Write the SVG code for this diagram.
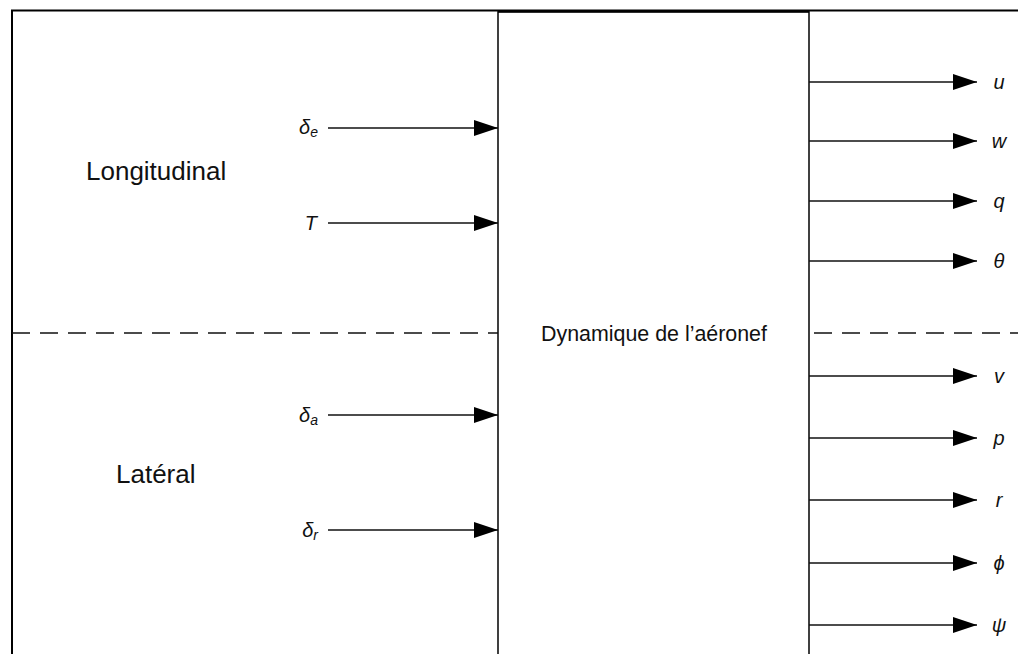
<svg xmlns="http://www.w3.org/2000/svg" width="1018" height="654" viewBox="0 0 1018 654">
  <style>
    .frame { fill: none; stroke: #000; stroke-width: 2; }
    .box { fill: #fff; stroke: #111; stroke-width: 1.6; }
    .wire { fill: none; stroke: #111; stroke-width: 1.6; marker-end: url(#head); }
    .split { fill: none; stroke: #111; stroke-width: 1.4; stroke-dasharray: 18 10; }
    .region { font-family: "Liberation Sans", Arial, sans-serif; font-size: 26px; fill: #111; }
    .title { font-family: "Liberation Sans", Arial, sans-serif; font-size: 21.4px; fill: #111; }
    .sym { font-family: "Liberation Sans", Arial, sans-serif; font-style: italic; font-size: 20px; fill: #111; }
    .sub { font-size: 14px; }
  </style>
  <defs>
    <marker id="head" markerUnits="userSpaceOnUse" markerWidth="24" markerHeight="16" refX="24" refY="8" orient="auto">
      <path d="M0,0 L24,8 L0,16 z" fill="#000"/>
    </marker>
  </defs>
  <rect width="1018" height="654" fill="#fff"/>

  <!-- outer frame (open to the right and bottom) -->
  <g id="frame">
    <path class="frame" d="M12,660 V10.5 H1020"/>
  </g>

  <!-- longitudinal / lateral separator -->
  <g id="separator">
    <path class="split" d="M12,333 H498"/>
    <path class="split" d="M814,333 H1018"/>
  </g>

  <!-- region labels -->
  <g id="longitudinal">
    <text class="region" x="86" y="180">Longitudinal</text>
  </g>
  <g id="lateral">
    <text class="region" x="116" y="483">Latéral</text>
  </g>

  <!-- aircraft dynamics block -->
  <g id="dynamics">
    <rect class="box" x="498" y="11.5" width="311" height="660"/>
    <path d="M498,11.5 H809" stroke="#000" stroke-width="2.4"/>
    <text class="title" x="654" y="341" text-anchor="middle">Dynamique de l’aéronef</text>
  </g>

  <!-- inputs and outputs -->
  <g id="connectors">
    <path class="wire" d="M328,128 H498"/>
    <path class="wire" d="M328,223 H498"/>
    <path class="wire" d="M328,415 H498"/>
    <path class="wire" d="M328,530 H498"/>

    <path class="wire" d="M809,82 H977"/>
    <path class="wire" d="M809,141 H977"/>
    <path class="wire" d="M809,201 H977"/>
    <path class="wire" d="M809,261 H977"/>
    <path class="wire" d="M809,376 H977"/>
    <path class="wire" d="M809,438 H977"/>
    <path class="wire" d="M809,500 H977"/>
    <path class="wire" d="M809,563 H977"/>
    <path class="wire" d="M809,625 H977"/>
  </g>

  <!-- input symbols -->
  <g id="inputs">
    <text class="sym" x="318" y="134" text-anchor="end">δ<tspan class="sub" dy="3">e</tspan></text>
    <text class="sym" x="317" y="230" text-anchor="end">T</text>
    <text class="sym" x="318" y="422" text-anchor="end">δ<tspan class="sub" dy="3">a</tspan></text>
    <text class="sym" x="318" y="537" text-anchor="end">δ<tspan class="sub" dy="3">r</tspan></text>
  </g>

  <!-- output states -->
  <g id="outputs">
    <text class="sym" x="999" y="89" text-anchor="middle">u</text>
    <text class="sym" x="999" y="148" text-anchor="middle">w</text>
    <text class="sym" x="999" y="208" text-anchor="middle">q</text>
    <text class="sym" x="999" y="268" text-anchor="middle">θ</text>
    <text class="sym" x="999" y="383" text-anchor="middle">v</text>
    <text class="sym" x="999" y="445" text-anchor="middle">p</text>
    <text class="sym" x="999" y="507" text-anchor="middle">r</text>
    <text class="sym" x="999" y="570" text-anchor="middle">ϕ</text>
    <text class="sym" x="999" y="632" text-anchor="middle">ψ</text>
  </g>
</svg>
